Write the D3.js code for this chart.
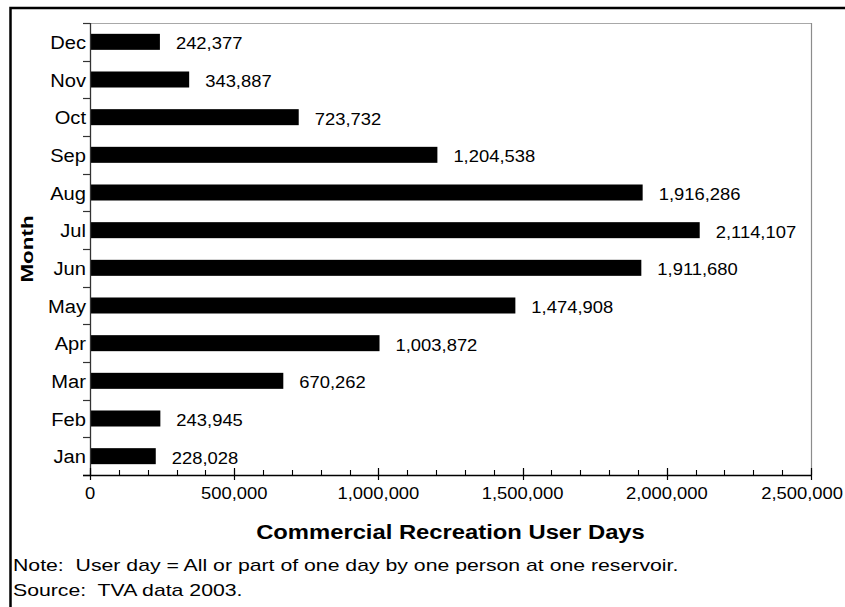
<!DOCTYPE html>
<html>
<head>
<meta charset="utf-8">
<script src="https://cdn.jsdelivr.net/npm/d3@7"></script>
<style>
  body { margin: 0; background: #fff; }
  text { font-family: Arial, "Liberation Sans", sans-serif; fill: #000; }
</style>
</head>
<body>
<svg id="chart" width="845" height="607"></svg>
<script>
// Monthly commercial recreation user days, TVA reservoirs, 2003
const months = ["Jan", "Feb", "Mar", "Apr", "May", "Jun", "Jul", "Aug", "Sep", "Oct", "Nov", "Dec"];
const userDays = [228028, 243945, 670262, 1003872, 1474908, 1911680, 2114107, 1916286, 1204538, 723732, 343887, 242377];
const majorTicks = [0, 500000, 1000000, 1500000, 2000000, 2500000];
const minorTicks = d3.range(0, 2500001, 100000);
const xTitle = "Commercial Recreation User Days";
const yTitle = "Month";
const footnotes = [
  "Note:  User day = All or part of one day by one person at one reservoir.",
  "Source:  TVA data 2003."
];

const W = 845, H = 607;
const plot = { left: 90, right: 811, top: 23, bottom: 475 };
const fmt = d3.format(",");

const svg = d3.select("#chart");
svg.append("rect").attr("width", W).attr("height", H).attr("fill", "#fff");

// outer frame (runs off the right and bottom of the page)
svg.append("rect")
  .attr("x", 10.5).attr("y", 8)
  .attr("width", W + 40).attr("height", H + 40)
  .attr("fill", "none").attr("stroke", "#000").attr("stroke-width", 2.5);

const x = d3.scaleLinear().domain([0, 2500000]).range([plot.left, plot.right]);
const y = d3.scaleBand()
  .domain(months.slice().reverse())
  .range([plot.top, plot.bottom])
  .paddingInner(0.575)
  .paddingOuter(0.2875);

// text with a horizontal stretch applied around its anchor point
function stretched(parent, str, px, py, sx, size, opts = {}) {
  const t = parent.append("text")
    .attr("transform", `translate(${px},${py})${opts.rotate ? ` rotate(${opts.rotate})` : ""} scale(${sx},1)`)
    .attr("font-size", size)
    .attr("text-anchor", opts.anchor || "start")
    .style("white-space", "pre")
    .text(str);
  if (opts.bold) t.attr("font-weight", "bold");
  return t;
}

// plot frame: top and right edges
svg.append("line")
  .attr("x1", plot.left).attr("x2", plot.right + 0.5)
  .attr("y1", plot.top + 0.5).attr("y2", plot.top + 0.5)
  .attr("stroke", "#a8a8a8").attr("stroke-width", 1);
svg.append("line")
  .attr("x1", plot.right + 0.5).attr("x2", plot.right + 0.5)
  .attr("y1", plot.top).attr("y2", plot.bottom)
  .attr("stroke", "#8c8c8c").attr("stroke-width", 1.2);

// bars
svg.append("g").selectAll("rect")
  .data(months)
  .join("rect")
  .attr("x", x(0))
  .attr("y", (m) => y(m))
  .attr("width", (m, i) => x(userDays[i]) - x(0))
  .attr("height", y.bandwidth())
  .attr("fill", "#000");

// value labels
const valueG = svg.append("g");
months.forEach((m, i) => {
  stretched(valueG, fmt(userDays[i]), x(userDays[i]) + 16, y(m) + y.bandwidth() / 2 + 7.5, 1.15, 16);
});

// y axis: line, category boundary ticks, month labels
const yAxisG = svg.append("g");
yAxisG.append("line")
  .attr("x1", plot.left + 0.5).attr("x2", plot.left + 0.5)
  .attr("y1", plot.top).attr("y2", plot.bottom)
  .attr("stroke", "#333").attr("stroke-width", 1.3);
const step = y.step();
d3.range(months.length + 1).forEach((k) => {
  const yy = Math.round(plot.top + k * step) + 0.5;
  yAxisG.append("line")
    .attr("x1", plot.left - 7).attr("x2", plot.left)
    .attr("y1", yy).attr("y2", yy)
    .attr("stroke", "#333").attr("stroke-width", 1.2);
});
months.forEach((m) => {
  stretched(yAxisG, m, plot.left - 4, y(m) + y.bandwidth() / 2 + 7, 1.06, 19, { anchor: "end" });
});

// x axis: minor ticks (up), major ticks (across), labels
const xAxisG = svg.append("g");
xAxisG.selectAll(".minor")
  .data(minorTicks)
  .join("line")
  .attr("x1", (d) => Math.round(x(d)) + 0.5).attr("x2", (d) => Math.round(x(d)) + 0.5)
  .attr("y1", plot.bottom - 5).attr("y2", plot.bottom)
  .attr("stroke", "#000").attr("stroke-width", 1.1);
xAxisG.selectAll(".major")
  .data(majorTicks)
  .join("line")
  .attr("x1", (d) => Math.round(x(d)) + 0.5).attr("x2", (d) => Math.round(x(d)) + 0.5)
  .attr("y1", plot.bottom - 7).attr("y2", plot.bottom + 5)
  .attr("stroke", "#000").attr("stroke-width", 1.2);
xAxisG.append("line")
  .attr("x1", plot.left - 7).attr("x2", plot.right + 1)
  .attr("y1", plot.bottom + 0.5).attr("y2", plot.bottom + 0.5)
  .attr("stroke", "#000").attr("stroke-width", 1.4);
majorTicks.forEach((d) => {
  const label = fmt(d);
  const t = stretched(xAxisG, label, x(d), plot.bottom + 24, 1.15, 16, { anchor: "middle" });
  // keep the last label inside the page
  const half = t.node().getComputedTextLength() * 1.15 / 2;
  const cx = Math.min(x(d), W - 2 - half);
  t.attr("transform", `translate(${cx},${plot.bottom + 24}) scale(1.15,1)`);
});

// axis titles
stretched(svg, xTitle, (plot.left + plot.right) / 2, 539, 1.19, 20, { anchor: "middle", bold: true });
stretched(svg, yTitle, 33, (plot.top + plot.bottom) / 2, 1.4, 16, { anchor: "middle", bold: true, rotate: -90 });

// footnotes
footnotes.forEach((line, i) => {
  stretched(svg, line, 13, 571 + i * 25, 1.25, 17);
});
</script>
</body>
</html>
